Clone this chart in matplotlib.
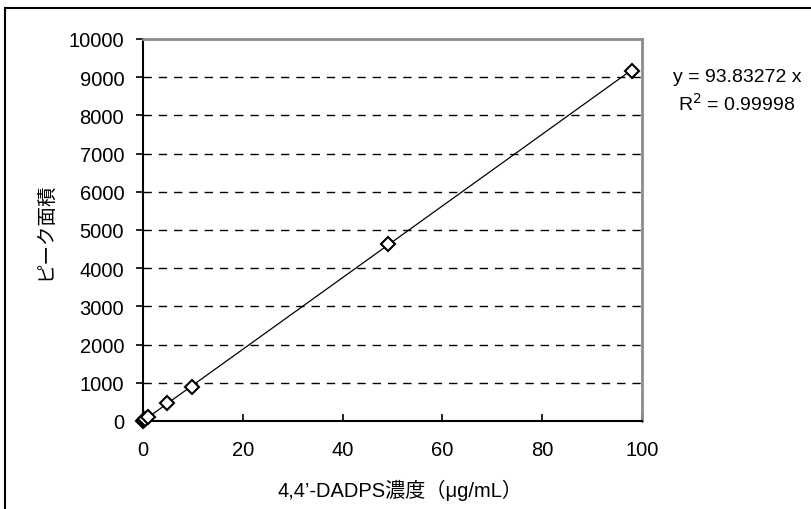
import numpy as np
import matplotlib.pyplot as plt
from matplotlib.patches import Rectangle

plt.rcParams['font.family'] = ['Liberation Sans', 'Noto Sans CJK JP', 'DejaVu Sans']

# calibration data
conc = [0.098, 0.245, 0.49, 0.98, 4.9, 9.8, 49.1, 98.0]
area = [9, 23, 46, 92, 470, 895, 4625, 9165]
slope = 93.83272
r2 = 0.99998
y_ticks = [0, 1000, 2000, 3000, 4000, 5000, 6000, 7000, 8000, 9000, 10000]
x_ticks = [0, 20, 40, 60, 80, 100]

fig = plt.figure(figsize=(8.11, 5.10), dpi=100)
ax = fig.add_axes([143 / 811, 1 - 422 / 510, 499 / 811, 382 / 510])

# outer chart border (cropped at right and bottom)
fig.patches.append(Rectangle((5 / 811, -0.1), 1.2, 1 - 9 / 510 + 0.1,
                             transform=fig.transFigure, fill=False,
                             edgecolor='black', linewidth=1.5))

ax.set_xlim(0, 100)
ax.set_ylim(0, 10000)
ax.set_xticks(x_ticks)
ax.set_yticks(y_ticks)

for yv in y_ticks[1:-1]:
    ax.axhline(yv, color='black', linewidth=1.0, linestyle=(0, (6, 5)), zorder=1)

xl = np.array([0, max(conc)])
ax.plot(xl, slope * xl, color='black', linewidth=0.9, zorder=2, clip_on=False)
ax.plot(conc, area, linestyle='none', marker='D', markersize=7.5,
        markerfacecolor='white', markeredgecolor='black', markeredgewidth=1.5,
        zorder=3, clip_on=False)

for s in ['top', 'right']:
    ax.spines[s].set_color('#8c8c8c')
    ax.spines[s].set_linewidth(2)
for s in ['left', 'bottom']:
    ax.spines[s].set_color('black')
    ax.spines[s].set_linewidth(1.5)

ax.tick_params(axis='y', direction='out', length=5, width=1.2, labelsize=14.5, pad=8.5)
ax.tick_params(axis='x', direction='in', length=5, width=1.2, labelsize=14.5, pad=14)

fig.text(45 / 811, 1 - 231 / 510, 'ピーク面積', rotation=90, ha='center', va='center',
         fontsize=14)
fig.text(400 / 811, 1 - 490 / 510, '4,4’-DADPS濃度（μg/mL）', ha='center', va='center',
         fontsize=14.5)

fig.text(737 / 811, 1 - 77 / 510, f'y = {slope:.5f} x', ha='center', va='center', fontsize=14)
fig.text(737 / 811, 1 - 104 / 510, f'R$^2$ = {r2:.5f}', ha='center', va='center', fontsize=14)

fig.savefig('out.png', dpi=100)
